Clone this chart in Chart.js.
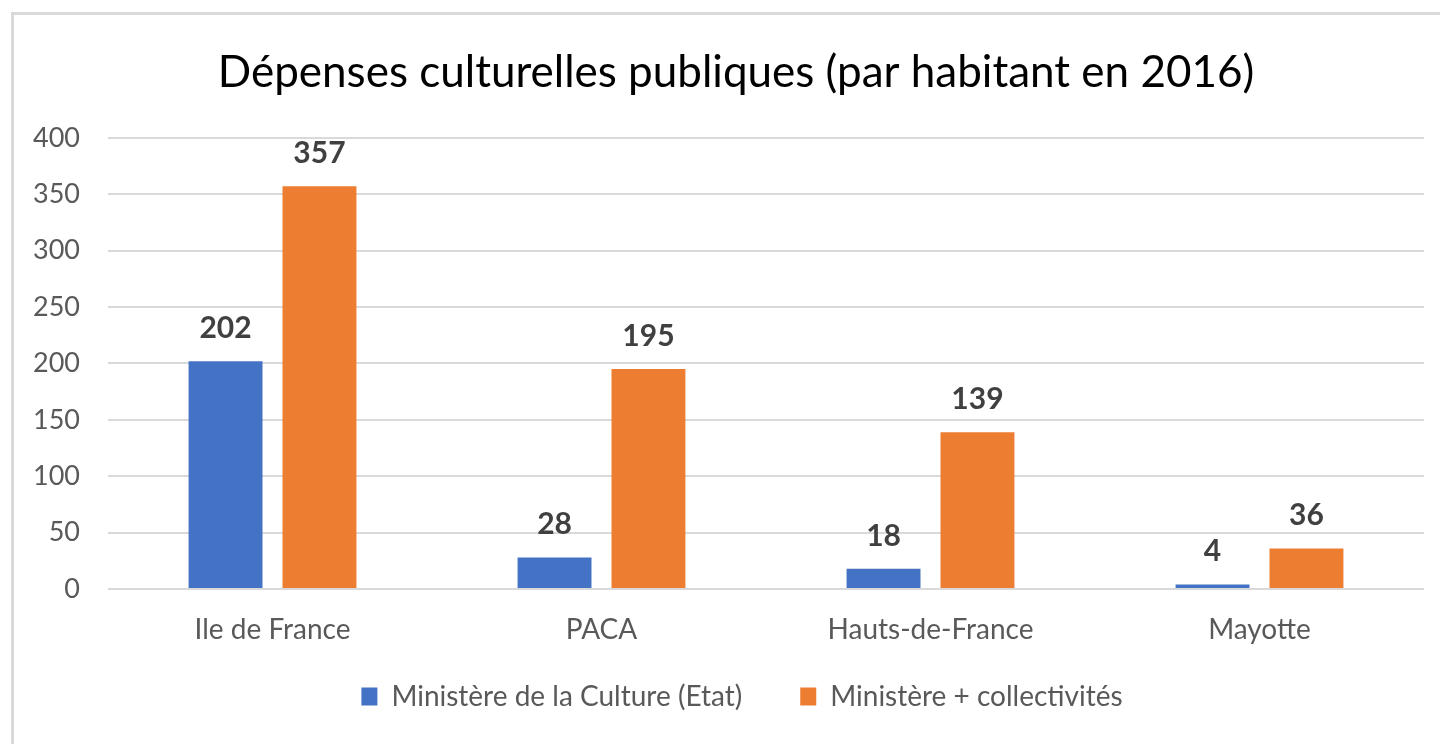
<!DOCTYPE html>
<html>
<head>
<meta charset="utf-8">
<script src="https://cdn.jsdelivr.net/npm/chart.js@4.4.0/dist/chart.umd.min.js"></script>
<style>
  body { margin: 0; background: #fff; }
  #frame { position: absolute; left: 11px; top: 12px; width: 1440px; height: 800px;
           border-left: 3px solid #d9d9d9; border-top: 3px solid #d9d9d9; }
  #myChart { position: absolute; left: 0; top: 0; }
</style>
</head>
<body>
<div id="frame"></div>
<canvas id="myChart" width="1440" height="744"></canvas>
<script>
var regions = ['Ile de France', 'PACA', 'Hauts-de-France', 'Mayotte'];
var etat = [202, 28, 18, 4];
var total = [357, 195, 139, 36];
var seriesNames = ['Ministère de la Culture (Etat)', 'Ministère + collectivités'];
var yTicks = [0, 50, 100, 150, 200, 250, 300, 350, 400];

// value labels above each bar
var valueLabels = {
    id: 'valueLabels',
    afterDatasetsDraw: function (chart) {
        var ctx = chart.ctx;
        ctx.save();
        ctx.font = 'bold 30px Lato';
        ctx.fillStyle = '#404040';
        ctx.textAlign = 'center';
        ctx.textBaseline = 'alphabetic';
        chart.data.datasets.forEach(function (ds, i) {
            chart.getDatasetMeta(i).data.forEach(function (bar, j) {
                ctx.fillText(ds.data[j], bar.x, bar.y - 23);
            });
        });
        ctx.restore();
    }
};

// nudge title and legend to where Excel puts them
var nudge = {
    id: 'nudge',
    afterLayout: function (chart) {
        chart.titleBlock.left += 18;
        chart.titleBlock.right += 18;
        chart.legend.left += 24;
        chart.legend.right += 24;
        chart.legend.top -= 22;
        chart.legend.bottom -= 22;
    }
};

var ctx = document.getElementById('myChart').getContext('2d');
var myChart = new Chart(ctx, {
    type: 'bar',
    data: {
        labels: regions,
        datasets: [{
            label: seriesNames[0],
            data: etat,
            backgroundColor: '#4472C4'
        }, {
            label: seriesNames[1],
            data: total,
            backgroundColor: '#ED7D31'
        }]
    },
    options: {
        responsive: false,
        animation: false,
        categoryPercentage: 0.571,
        barPercentage: 0.787,
        layout: { padding: { left: 12, right: 16, top: 0, bottom: 1.4 } },
        plugins: {
            title: {
                display: true,
                text: 'Dépenses culturelles publiques (par habitant en 2016)',
                color: '#000',
                font: { family: 'Lato', size: 44, weight: 'normal' },
                padding: { top: 46, bottom: 39 }
            },
            legend: {
                position: 'bottom',
                labels: {
                    color: '#595959',
                    font: { family: 'Lato', size: 28 },
                    boxWidth: 16,
                    boxHeight: 18,
                    padding: 58
                }
            },
            tooltip: { enabled: false }
        },
        scales: {
            x: {
                grid: { display: false, drawTicks: false },
                border: { display: false },
                afterFit: function (scale) { scale.height = 57.6; },
                ticks: { color: '#595959', font: { family: 'Lato', size: 28 }, padding: 24 }
            },
            y: {
                min: 0,
                max: 400,
                afterBuildTicks: function (scale) {
                    scale.ticks = yTicks.map(function (v) { return { value: v }; });
                },
                afterFit: function (scale) { scale.width = 96; },
                grid: { color: '#d9d9d9', lineWidth: 2, drawTicks: false },
                border: { display: false },
                ticks: { color: '#595959', font: { family: 'Lato', size: 27 }, padding: 28 }
            }
        }
    },
    plugins: [valueLabels, nudge]
});
</script>
</body>
</html>
